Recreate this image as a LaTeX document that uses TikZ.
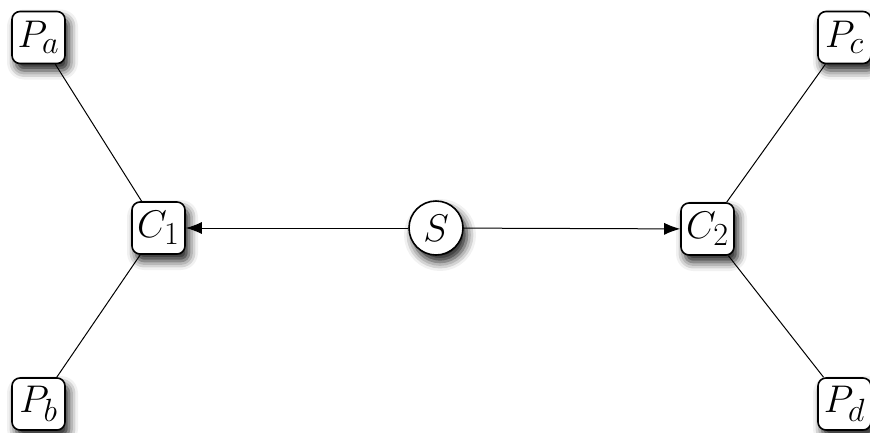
\documentclass[tikz,border=0pt]{standalone}
\usepackage{graphicx}
\usetikzlibrary{arrows.meta,shadows.blur}
\newcommand{\mylbl}[1]{\scalebox{1.55}{\Huge$#1$}}
\begin{document}
\begin{tikzpicture}[x=1pt,y=-1pt,
  box/.style={draw,line width=1.6pt,fill=white,rounded corners=8pt,minimum width=53pt,minimum height=52pt,inner sep=0pt,
    blur shadow={shadow xshift=4pt,shadow yshift=-7pt,shadow blur radius=9pt,shadow opacity=90}},
  circ/.style={draw,circle,line width=1.6pt,fill=white,minimum size=54pt,inner sep=0pt,
    blur shadow={shadow xshift=4pt,shadow yshift=-7pt,shadow blur radius=9pt,shadow opacity=90}},
  link/.style={line width=1pt},
  arr/.style={line width=1pt,-{Latex[length=16pt,width=12pt]}}]
\useasboundingbox (0,0) rectangle (870,432);
\node[box] (Pa) at (38.5,37.5) {\mylbl{P_a}};
\node[box] (Pb) at (38.5,404) {\mylbl{P_b}};
\node[box] (Pc) at (844.5,37.5) {\mylbl{P_c}};
\node[box] (Pd) at (844.5,404) {\mylbl{P_d}};
\node[box] (C1) at (158.5,228) {\mylbl{C_1}};
\node[box] (C2) at (707.5,229) {\mylbl{C_2}};
\node[circ] (S) at (436,228) {\mylbl{S}};
\draw[link] (Pa) -- (C1);
\draw[link] (Pb) -- (C1);
\draw[link] (Pc) -- (C2);
\draw[link] (Pd) -- (C2);
\draw[arr] (S) -- (C1);
\draw[arr] (S) -- (C2);
\end{tikzpicture}
\end{document}
